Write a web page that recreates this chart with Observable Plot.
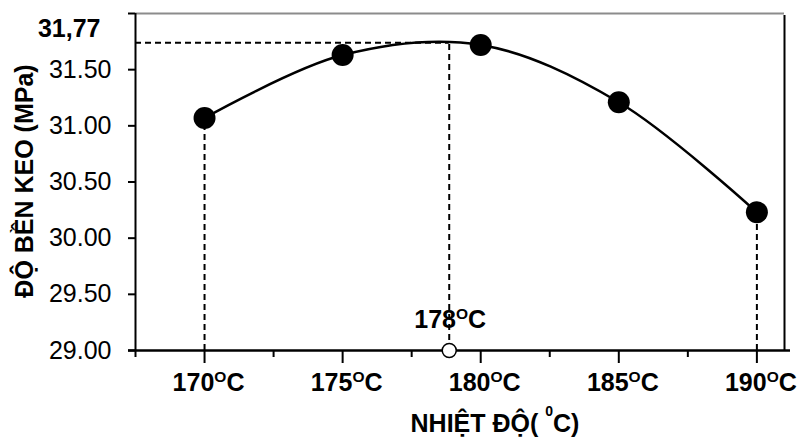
<!DOCTYPE html>
<html>
<head>
<meta charset="utf-8">
<script src="https://cdn.jsdelivr.net/npm/d3@7"></script>
<script src="https://cdn.jsdelivr.net/npm/@observablehq/plot@0.6"></script>
<style>
  html, body { margin: 0; padding: 0; background: #fff; }
</style>
</head>
<body>
<div id="chart"></div>
<script>
// ---- data ----
const temps = [170, 175, 180, 185, 190];
const strength = [31.07, 31.63, 31.72, 31.21, 30.23];
const xTickLabels = ["170^OC", "175^OC", "180^OC", "185^OC", "190^OC"];
const yTicks = [29, 29.5, 30, 30.5, 31, 31.5];
const optimumTemp = 178.86;        // drawn position of the optimum marker
const optimumLabel = "178^OC";
const peakStrength = 31.74;        // drawn position of the dashed line
const peakLabel = "31,77";
const dropTemps = [170, 190];      // dashed drop lines
const yTitle = "ĐỘ BỀN KEO (MPa)";
const xTitle = "NHIỆT ĐỘ( ^0C)";

const xMin = 167.5, xMax = 191, yMin = 29, yMax = 32;

const rows = temps.map((t, i) => ({t, v: strength[i]}));
const drops = rows.filter(d => dropTemps.includes(d.t));

const font = "'Liberation Sans', Arial, Helvetica, sans-serif";
const dash = {stroke: "#000", strokeWidth: 2, strokeDasharray: "6,4"};

const chart = Plot.plot({
  width: 801,
  height: 446,
  marginLeft: 135,
  marginRight: 17,
  marginTop: 13,
  marginBottom: 96,
  x: {domain: [xMin, xMax]},
  y: {domain: [yMin, yMax]},
  style: {fontFamily: font, background: "#fff", color: "#000"},
  marks: [
    // frame
    Plot.ruleY([yMax], {stroke: "#8c8c8c", strokeWidth: 2}),
    Plot.ruleX([xMax], {stroke: "#000", strokeWidth: 2, insetTop: 2}),
    // dashed guides
    Plot.ruleY([peakStrength], {x1: () => xMin, x2: () => optimumTemp, ...dash}),
    Plot.ruleX([optimumTemp], {y1: () => yMin, y2: () => peakStrength, ...dash}),
    Plot.ruleX(drops, {x: "t", y1: () => yMin, y2: "v", ...dash}),
    // axes
    Plot.axisY({ticks: [...yTicks, yMax], tickSize: 7, tickPadding: 17, strokeWidth: 2,
      tickFormat: d => yTicks.includes(d) ? d3.format(".2f")(d) : "", fontSize: 25, label: null}),
    Plot.axisX({ticks: d3.range(xMin, xMax - 1, 5), tickSize: 7, strokeWidth: 2, tickFormat: () => "", label: null}),
    Plot.axisX({ticks: temps, tickSize: 13, strokeWidth: 2, tickFormat: () => "", label: null}),
    Plot.ruleX([xMin], {stroke: "#000", strokeWidth: 2}),
    Plot.ruleY([yMin], {stroke: "#000", strokeWidth: 2.5, insetLeft: -7, insetRight: -6}),
    // curve & points
    Plot.line(rows, {x: "t", y: "v", curve: "catmull-rom", stroke: "#000", strokeWidth: 2.5}),
    Plot.dot(rows, {x: "t", y: "v", r: 11, fill: "#000", stroke: "none"}),
    Plot.dot([optimumTemp], {x: d => d, frameAnchor: "bottom", r: 7, fill: "#fff", stroke: "#000", strokeWidth: 1.5}),
    // labels
    Plot.text(temps, {x: d => d, frameAnchor: "bottom", text: (d, i) => xTickLabels[i], dy: 40, dx: 4,
      fontSize: 25, fontWeight: "bold", fill: "#000"}),
    Plot.text([optimumTemp], {x: d => d, frameAnchor: "bottom", text: () => optimumLabel, dy: -23, dx: 1,
      fontSize: 25, fontWeight: "bold", fill: "#000"}),
    Plot.text([peakStrength], {y: d => d, frameAnchor: "left", text: () => peakLabel, textAnchor: "end", dx: -35, dy: -14,
      fontSize: 25, fontWeight: "bold", fill: "#000"}),
    Plot.text([yTitle], {frameAnchor: "left", text: d => d, rotate: -90, textAnchor: "middle", dx: -111, dy: -1,
      fontSize: 25, fontWeight: "bold", fill: "#000"}),
    Plot.text([xTitle], {frameAnchor: "bottom", text: d => d, dx: 35, dy: 81,
      fontSize: 25, fontWeight: "bold", fill: "#000"})
  ]
});

// turn "^X" into a superscript tspan
const NS = "http://www.w3.org/2000/svg";
chart.querySelectorAll("text, tspan").forEach(n => {
  if (n.childNodes.length !== 1 || n.firstChild.nodeType !== 3) return;
  const s = n.textContent;
  if (!s.includes("^")) return;
  const isTitle = s.startsWith("NHI");
  const rise = isTitle ? 16 : 9;
  const [a, b] = s.split("^");
  n.textContent = "";
  const t0 = document.createElementNS(NS, "tspan");
  t0.textContent = a;
  const t1 = document.createElementNS(NS, "tspan");
  t1.textContent = b[0];
  t1.setAttribute("font-size", isTitle ? 14 : 15.5);
  t1.setAttribute("font-weight", "bold");
  t1.setAttribute("dy", -rise);
  const t2 = document.createElementNS(NS, "tspan");
  t2.textContent = b.slice(1);
  t2.setAttribute("dy", rise);
  n.append(t0, t1, t2);
});

document.getElementById("chart").appendChild(chart);
</script>
</body>
</html>
